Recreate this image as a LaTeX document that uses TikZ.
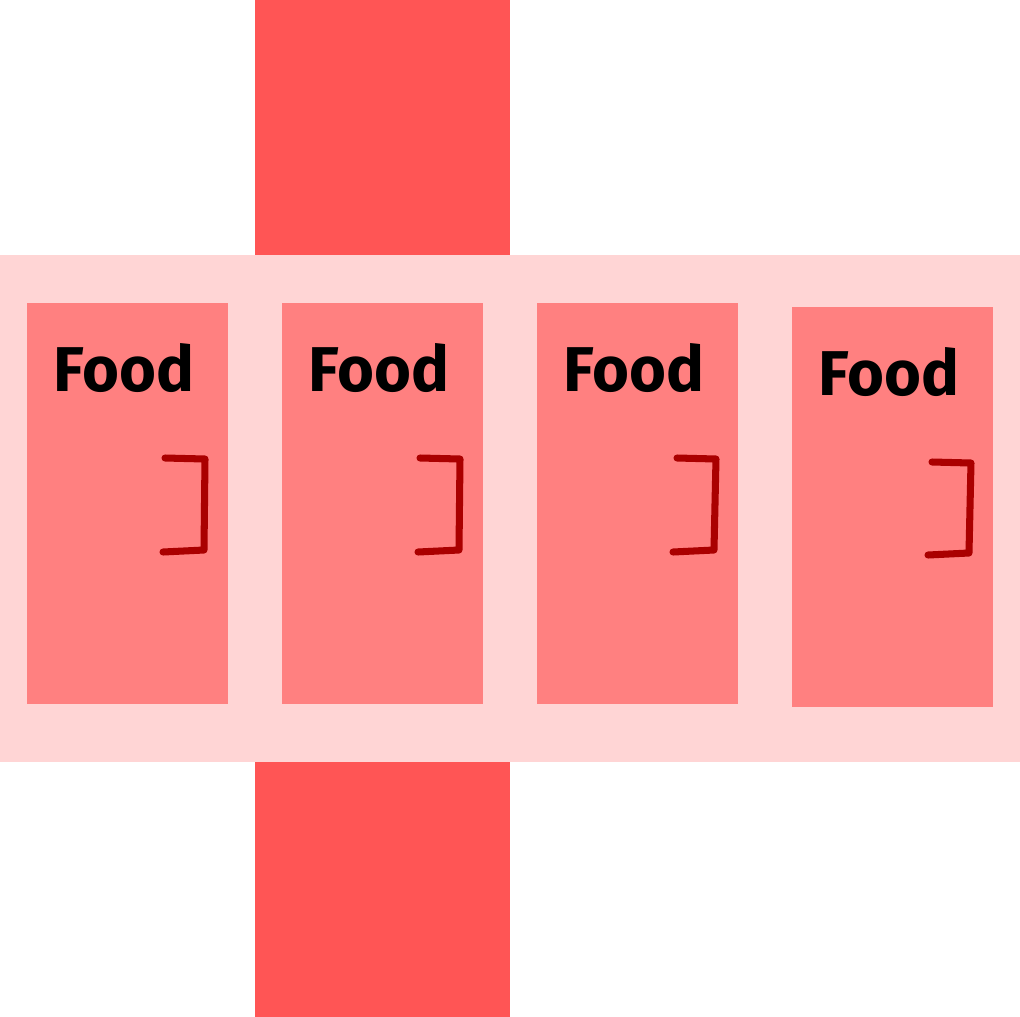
\documentclass[tikz,border=0pt]{standalone}
\usepackage{fontspec}
\setmainfont{Fira Sans}
\definecolor{barred}{HTML}{FF5555}
\definecolor{bandpink}{HTML}{FFD5D5}
\definecolor{cardpink}{HTML}{FF8080}
\definecolor{bracketred}{HTML}{AA0000}
\tikzset{
  bar/.style={fill=barred, draw=none},
  band/.style={fill=bandpink, draw=none},
  card/.style={fill=cardpink, draw=none},
  foodlabel/.style={anchor=base, inner sep=0pt, font=\fontsize{18}{18}\selectfont\bfseries, text=black},
  bracket/.style={draw=bracketred, line width=2pt, line cap=round, line join=round}
}
\begin{document}
\begin{tikzpicture}[x=0.01cm, y=-0.01cm]
\useasboundingbox (0,0) rectangle (1020,1017);
\fill[white] (0,0) rectangle (1020,1017);
% vertical bar pieces
\path[bar] (255,0) rectangle (510,255);
\path[bar] (255,762) rectangle (510,1017);
% horizontal band
\path[band] (0,255) rectangle (1020,762);
% cards
\path[card] (27,303) rectangle (228,704) node[pos=0.5] (c1) {};
\path[card] (282,303) rectangle (483,704) node[pos=0.5] (c2) {};
\path[card] (537,303) rectangle (738,704) node[pos=0.5] (c3) {};
\path[card] (792,307) rectangle (993,707) node[pos=0.5] (c4) {};
% labels
\node[foodlabel] (t1) at (124,391) {Food};
\node[foodlabel] (t2) at (379,391) {Food};
\node[foodlabel] (t3) at (634,391) {Food};
\node[foodlabel] (t4) at (889,395) {Food};
% brackets
\draw[bracket] (165,458) -- (205,459) -- (204,550) -- (163,552);
\draw[bracket] (420,458) -- (460,459) -- (459,550) -- (418,552);
\draw[bracket] (677,458) -- (716,459) -- (714,550) -- (673,552);
\draw[bracket] (932,462) -- (971,463) -- (969,553) -- (928,555);
\end{tikzpicture}
\end{document}
